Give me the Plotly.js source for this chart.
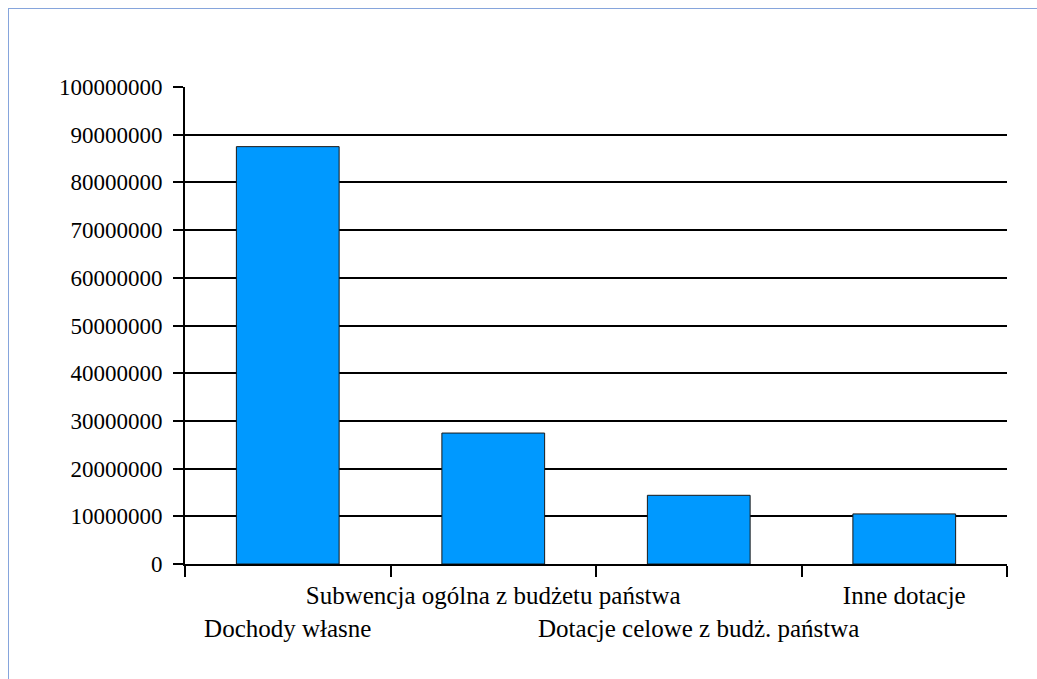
<!DOCTYPE html>
<html>
<head>
<meta charset="utf-8">
<script src="https://cdn.plot.ly/plotly-3.0.1.min.js"></script>
<style>
  html, body { margin: 0; padding: 0; background: #ffffff; }
  #wrap { position: relative; width: 1037px; height: 679px; }
  #chart { position: absolute; left: 0; top: 0; width: 1037px; height: 679px; }
  #frame { position: absolute; left: 8px; top: 8px; right: -2px; bottom: -2px;
           border-top: 1px solid #86a5dc; border-left: 1px solid #86a5dc; pointer-events: none; }
</style>
</head>
<body>
<div id="wrap">
  <div id="chart"></div>
  <div id="frame"></div>
</div>
<script>
const categories = [
  "Dochody własne",
  "Subwencja ogólna z budżetu państwa",
  "Dotacje celowe z budż. państwa",
  "Inne dotacje"
];
const values = [87500000, 27450000, 14400000, 10500000];
const labelRow = [2, 1, 2, 1];

const tickText = categories.map((c, i) => labelRow[i] === 2 ? " <br>" + c : c);

const serif = "Liberation Serif";

const trace = {
  type: "bar",
  x: categories,
  y: values,
  marker: { color: "#0099ff", line: { color: "#1a1a1a", width: 1 } },
  hoverinfo: "x+y"
};

const layout = {
  width: 1037,
  height: 679,
  paper_bgcolor: "rgba(0,0,0,0)",
  plot_bgcolor: "#ffffff",
  margin: { l: 185, r: 30, t: 87, b: 115 },
  bargap: 0.5,
  showlegend: false,
  font: { family: serif, color: "#000000" },
  xaxis: {
    type: "category",
    tickmode: "array",
    tickvals: categories,
    ticktext: tickText,
    tickson: "boundaries",
    ticks: "outside",
    ticklen: 11,
    tickwidth: 2,
    tickcolor: "#000000",
    showgrid: false,
    showline: true,
    linecolor: "#000000",
    linewidth: 2,
    tickangle: 0,
    tickfont: { size: 25, family: serif, color: "#000000" },
    ticklabelstandoff: 8,
    zeroline: false,
    automargin: false
  },
  yaxis: {
    range: [0, 100000000],
    dtick: 10000000,
    tick0: 0,
    tickformat: "d",
    ticks: "outside",
    ticklen: 10,
    tickwidth: 2,
    tickcolor: "#000000",
    showgrid: true,
    gridcolor: "#000000",
    gridwidth: 2,
    showline: true,
    linecolor: "#000000",
    linewidth: 2,
    zeroline: false,
    tickfont: { size: 23, family: serif, color: "#000000" },
    ticklabelstandoff: 6,
    automargin: false
  }
};

Plotly.newPlot("chart", [trace], layout, { displayModeBar: false, staticPlot: true });
</script>
</body>
</html>
